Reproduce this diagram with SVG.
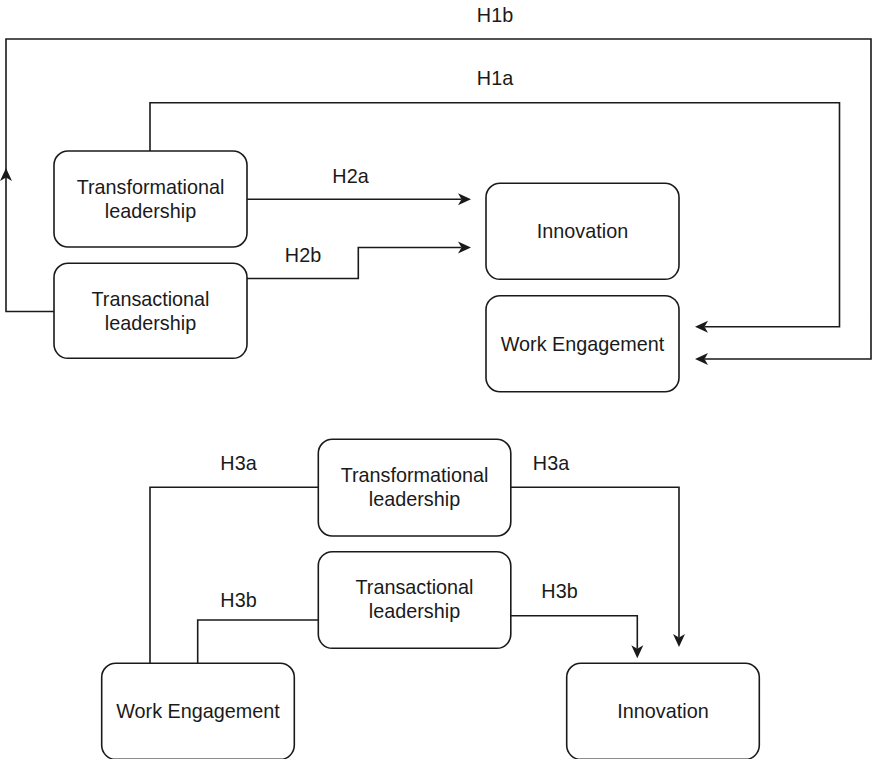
<svg xmlns="http://www.w3.org/2000/svg" width="873" height="759" viewBox="0 0 873 759">
<style>
.box{fill:#fff;stroke:#1a1a1a;stroke-width:1.6}
.t{font-family:"Liberation Sans",Arial,sans-serif;font-size:19.8px;fill:#1a1a1a;text-anchor:middle}
.c{fill:none;stroke:#1a1a1a;stroke-width:1.6}
</style>
<defs>
<marker id="arr" viewBox="-14 -7 14 14" refX="-9.5" refY="0" markerWidth="14" markerHeight="14" markerUnits="userSpaceOnUse" orient="auto">
<path d="M0,0 L-13,-6 L-9.5,0 L-13,6 Z" fill="#1a1a1a"/>
</marker>
</defs>
<rect width="873" height="759" fill="#fff"/>
<g id="connectors">
<path class="c" d="M54,311.5 H6 V39 H871 V359 H704.5" marker-end="url(#arr)"/>
<path d="M6,168 L0,181 L6,177.5 L12,181 Z" fill="#1a1a1a"/>
<path class="c" d="M150,151 V102.7 H839.5 V326.7 H704.5" marker-end="url(#arr)"/>
<path class="c" d="M247,199.3 H461.5" marker-end="url(#arr)"/>
<path class="c" d="M247,278.5 H358.3 V247.5 H461.5" marker-end="url(#arr)"/>
<path class="c" d="M318,487.3 H150 V663"/>
<path class="c" d="M318,620 H197.7 V663"/>
<path class="c" d="M511,487.3 H679 V637.5" marker-end="url(#arr)"/>
<path class="c" d="M511,615.7 H637.3 V648.8" marker-end="url(#arr)"/>
<text class="t" x="495" y="21.7">H1b</text>
<text class="t" x="495" y="85">H1a</text>
<text class="t" x="350.5" y="182.7">H2a</text>
<text class="t" x="303" y="261.7">H2b</text>
<text class="t" x="238.5" y="470">H3a</text>
<text class="t" x="238.5" y="606.7">H3b</text>
<text class="t" x="551" y="470">H3a</text>
<text class="t" x="559.5" y="597.7">H3b</text>
</g>
<g id="transformational-top">
<rect class="box" x="54" y="151" width="193" height="96" rx="14"/>
<text class="t" x="150.5" y="193.5">Transformational</text>
<text class="t" x="150.5" y="217.5">leadership</text>
</g>
<g id="transactional-top">
<rect class="box" x="54" y="263.3" width="193" height="95" rx="14"/>
<text class="t" x="150.5" y="305.5">Transactional</text>
<text class="t" x="150.5" y="329.5">leadership</text>
</g>
<g id="innovation-top">
<rect class="box" x="486" y="183.3" width="193" height="96" rx="14"/>
<text class="t" x="582.5" y="238.3">Innovation</text>
</g>
<g id="work-engagement-top">
<rect class="box" x="486" y="295.7" width="193" height="96" rx="14"/>
<text class="t" x="582.5" y="350.5">Work Engagement</text>
</g>
<g id="transformational-bottom">
<rect class="box" x="318.3" y="439.3" width="192.5" height="96.7" rx="14"/>
<text class="t" x="414.5" y="481.8">Transformational</text>
<text class="t" x="414.5" y="506">leadership</text>
</g>
<g id="transactional-bottom">
<rect class="box" x="318.3" y="551.7" width="192.5" height="96.6" rx="14"/>
<text class="t" x="414.5" y="593.5">Transactional</text>
<text class="t" x="414.5" y="617.7">leadership</text>
</g>
<g id="work-engagement-bottom">
<rect class="box" x="101.7" y="663.3" width="192.6" height="96" rx="14"/>
<text class="t" x="198" y="718.3">Work Engagement</text>
</g>
<g id="innovation-bottom">
<rect class="box" x="566.7" y="663.3" width="192.6" height="96" rx="14"/>
<text class="t" x="663" y="718.3">Innovation</text>
</g>
</svg>
